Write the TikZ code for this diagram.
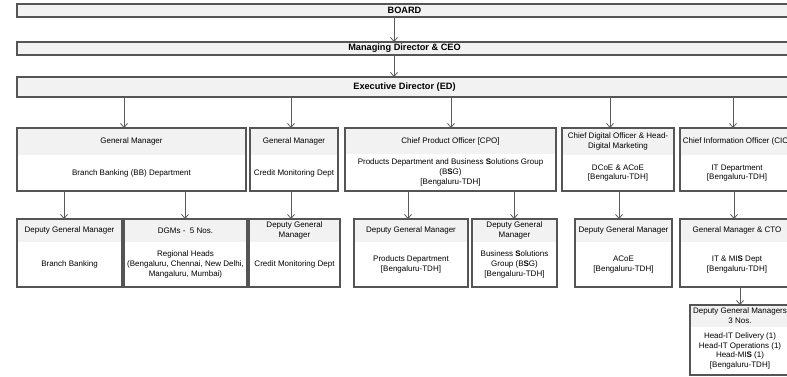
\documentclass[tikz,border=0pt]{standalone}
\usepackage{fontspec}
\setmainfont{Liberation Sans}
\usetikzlibrary{arrows.meta}
\definecolor{bordc}{RGB}{85,85,85}
\definecolor{hdrc}{RGB}{242,242,242}
\definecolor{linec}{RGB}{90,90,90}
\newcommand\BT{[Bengaluru-TDH]}
\newcommand\orgbox[8]{%
  \pgfmathsetmacro\bw{#3-#2}%
  \pgfmathsetmacro\hh{#5-#4}%
  \pgfmathsetmacro\bh{#6-#5}%
  \pgfmathsetmacro\cx{(#2+#3)/2}%
  \pgfmathsetmacro\cyh{-(#4+#5)/2}%
  \pgfmathsetmacro\cyb{-(#5+#6)/2}%
  \node[hdr, minimum width=\bw pt, minimum height=\hh pt] (#1h) at (\cx,\cyh) {#7};
  \node[bdy, minimum width=\bw pt, minimum height=\bh pt] (#1b) at (\cx,\cyb) {#8};
  \draw[border] (#1h.north west) rectangle (#1b.south east);
}
\tikzset{
  hdr/.style={fill=hdrc, inner sep=0pt, outer sep=0pt, align=center, font=\fontsize{8}{9.8}\selectfont},
  bdy/.style={fill=white, inner sep=0pt, outer sep=0pt, align=center, font=\fontsize{8}{9.8}\selectfont},
  border/.style={draw=bordc, line width=1.3pt},
  topbox/.style={fill=hdrc, draw=bordc, line width=1.3pt, inner sep=0pt, outer sep=0pt, font=\bfseries\fontsize{9.2}{11}\selectfont},
  conn/.style={draw=linec, line width=0.8pt, -{Straight Barb[length=4pt,width=7pt]}}
}
\begin{document}
\begin{tikzpicture}[x=1pt,y=1pt]
\useasboundingbox (0,0) rectangle (787,-377);
\clip (0,0) rectangle (787,-377);

% top level
\node[topbox, minimum width=775pt, minimum height=13pt] (board) at (404.5,-10.5) {BOARD};
\node[topbox, minimum width=775pt, minimum height=13pt] (md) at (404.5,-48.5) {Managing Director \& CEO};
\node[topbox, minimum width=775pt, minimum height=20pt] (ed) at (404.5,-87) {Executive Director (ED)};

% level 2
\orgbox{gmbb}{17}{246}{128}{155}{191}{General Manager}{Branch Banking (BB) Department}
\orgbox{gmcm}{250}{338}{128}{155}{191}{General Manager}{Credit Monitoring Dept}
\orgbox{cpo}{345}{556}{128}{154}{191}{Chief Product Officer [CPO]}{Products Department and Business \textbf{S}olutions Group\\(B\textbf{S}G)\\\BT}
\orgbox{cdo}{562}{674}{128}{155}{191}{Chief Digital Officer \& Head-\\Digital Marketing}{DCoE \& ACoE\\\BT}
\orgbox{cio}{680}{794}{128}{155}{191}{Chief Information Officer (CIO)}{IT Department\\\BT}

% level 3
\orgbox{dgbb}{17}{122}{219}{242}{287}{Deputy General Manager}{Branch Banking}
\orgbox{dgms}{124}{247}{219}{242}{287}{DGMs -\ \ 5 Nos.}{Regional Heads\\(Bengaluru, Chennai, New Delhi,\\Mangaluru, Mumbai)}
\orgbox{dgcm}{249}{340}{219}{242}{287}{Deputy General\\Manager}{Credit Monitoring Dept}
\orgbox{dgpd}{354}{468}{219}{242}{287}{Deputy General Manager}{Products Department\\\BT}
\orgbox{dgbs}{472}{557}{219}{242}{287}{Deputy General\\Manager}{Business \textbf{S}olutions\\Group (B\textbf{S}G)\\\BT}
\orgbox{dgac}{575}{672}{219}{242}{287}{Deputy General Manager}{ACoE\\\BT}
\orgbox{gcto}{680}{794}{219}{242}{287}{General Manager \& CTO}{IT \& MI\textbf{S} Dept\\\BT}

% level 4
\orgbox{dgt}{690}{790}{305}{327}{375}{Deputy General Managers\\3 Nos.}{Head-IT Delivery (1)\\Head-IT Operations (1)\\Head-MI\textbf{S} (1)\\\BT}

% connector x positions
\coordinate (xa) at (394,0);
\coordinate (x1) at (124,0);
\coordinate (x2) at (291,0);
\coordinate (x3) at (451,0);
\coordinate (x4) at (610,0);
\coordinate (x5) at (733,0);
\coordinate (y1) at (64,0);
\coordinate (y2) at (185,0);
\coordinate (y3) at (291,0);
\coordinate (y4) at (408,0);
\coordinate (y5) at (514,0);
\coordinate (y6) at (619,0);
\coordinate (y7) at (734,0);
\coordinate (z1) at (740,0);

\draw[conn] (board.south -| xa) -- (md.north -| xa);
\draw[conn] (md.south -| xa) -- (ed.north -| xa);

\draw[conn] (ed.south -| x1) -- (gmbbh.north -| x1);
\draw[conn] (ed.south -| x2) -- (gmcmh.north -| x2);
\draw[conn] (ed.south -| x3) -- (cpoh.north -| x3);
\draw[conn] (ed.south -| x4) -- (cdoh.north -| x4);
\draw[conn] (ed.south -| x5) -- (cioh.north -| x5);

\draw[conn] (gmbbb.south -| y1) -- (dgbbh.north -| y1);
\draw[conn] (gmbbb.south -| y2) -- (dgmsh.north -| y2);
\draw[conn] (gmcmb.south -| y3) -- (dgcmh.north -| y3);
\draw[conn] (cpob.south -| y4) -- (dgpdh.north -| y4);
\draw[conn] (cpob.south -| y5) -- (dgbsh.north -| y5);
\draw[conn] (cdob.south -| y6) -- (dgach.north -| y6);
\draw[conn] (ciob.south -| y7) -- (gctoh.north -| y7);

\draw[conn] (gctob.south -| z1) -- (dgth.north -| z1);
\end{tikzpicture}
\end{document}
